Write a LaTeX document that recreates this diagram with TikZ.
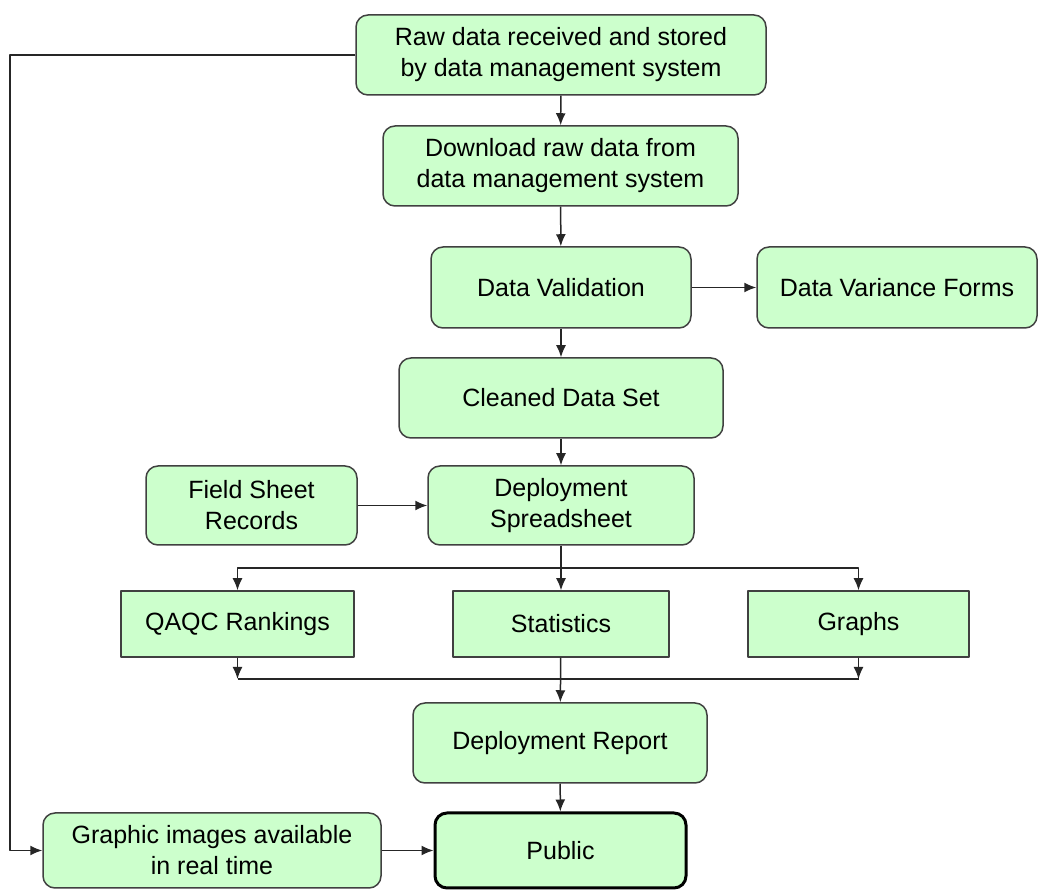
\documentclass[tikz,border=0pt]{standalone}
\usepackage{fontspec}
\usetikzlibrary{arrows.meta}
\setmainfont{Liberation Sans}
\definecolor{boxfill}{HTML}{CCFFCC}
\definecolor{boxline}{HTML}{404040}
\begin{document}
\begin{tikzpicture}[>={Latex[length=12bp,width=10bp]},line join=bevel,
    every node/.style={font=\fontsize{25bp}{31bp}\selectfont,align=center,inner sep=0pt},
    sqbox/.style={draw=boxline,fill=boxfill,line width=1.5bp,rectangle},
    rndbox/.style={sqbox,rounded corners=12bp},
    link/.style={draw=black!85,line width=1.5bp}]
    \useasboundingbox (0bp,0bp) rectangle (1038bp,890bp);
    %%
    \node (raw) at (561.0bp,835.0bp) [rndbox,minimum width=410bp,minimum height=80bp] {Raw data received and stored\\by data management system};
    \node (download) at (560.5bp,724.0bp) [rndbox,minimum width=355bp,minimum height=80bp] {Download raw data from\\data management system};
    \node (validation) at (561.0bp,602.5bp) [rndbox,minimum width=260bp,minimum height=81bp] {Data Validation};
    \node (variance) at (897.0bp,602.5bp) [rndbox,minimum width=280bp,minimum height=81bp] {Data Variance Forms};
    \node (cleaned) at (561.0bp,492.0bp) [rndbox,minimum width=324bp,minimum height=80bp] {Cleaned Data Set};
    \node (field) at (251.5bp,384.5bp) [rndbox,minimum width=211bp,minimum height=79bp] {Field Sheet\\Records};
    \node (spreadsheet) at (561.0bp,384.5bp) [rndbox,minimum width=266bp,minimum height=79bp] {Deployment\\Spreadsheet};
    \node (qaqc) at (237.5bp,266.0bp) [sqbox,minimum width=233bp,minimum height=66bp] {QAQC Rankings};
    \node (stats) at (561.0bp,266.0bp) [sqbox,minimum width=216bp,minimum height=66bp] {Statistics};
    \node (graphs) at (858.5bp,266.0bp) [sqbox,minimum width=221bp,minimum height=66bp] {Graphs};
    \node (report) at (560.0bp,147.0bp) [rndbox,minimum width=294bp,minimum height=80bp] {Deployment Report};
    \node (graphic) at (212.0bp,39.5bp) [rndbox,minimum width=338bp,minimum height=75bp] {Graphic images available\\in real time};
    \node (public) at (560.5bp,39.5bp) [rndbox,draw=black,line width=3bp,minimum width=251bp,minimum height=75bp] {Public};
    %
    \coordinate (back) at (10.0bp,835.0bp);
    \coordinate (split) at (561.0bp,322.0bp);
    \coordinate (join) at (561.0bp,211.0bp);
    %
    \draw [link,->] (raw) -- (download);
    \draw [link,->] (download) -- (validation);
    \draw [link,->] (validation) -- (variance);
    \draw [link,->] (validation) -- (cleaned);
    \draw [link,->] (cleaned) -- (spreadsheet);
    \draw [link,->] (field) -- (spreadsheet);
    \draw [link,->] (spreadsheet) -- (stats);
    \draw [link,->] (split) -| (qaqc);
    \draw [link,->] (split) -| (graphs);
    \draw [link,->] (qaqc) -- (qaqc |- join);
    \draw [link,->] (graphs) -- (graphs |- join);
    \draw [link] (qaqc |- join) -- (graphs |- join);
    \draw [link,->] (stats) -- (report);
    \draw [link,->] (report) -- (public);
    \draw [link,->] (graphic) -- (public);
    \draw [link,->] (raw.west) -- (back) |- (graphic.west);
    %
\end{tikzpicture}
\end{document}
